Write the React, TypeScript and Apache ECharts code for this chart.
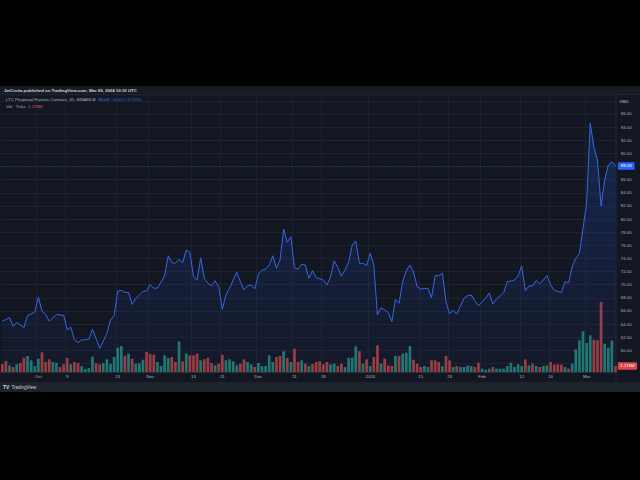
import React, { useEffect, useRef } from 'react';
import * as echarts from 'echarts';

// ---- data ----
const startDate = [2023, 8, 21]; // first daily bar: 21 Sep 2023 (UTC, month 0-based)

const closes = [
  64.46, 64.69, 64.97, 63.66, 64.24, 63.85, 63.50, 65.26, 65.56, 65.83,
  68.12, 65.99, 65.48, 64.46, 64.92, 65.45, 65.38, 65.33, 63.14, 63.52,
  61.61, 61.16, 61.57, 61.61, 61.66, 63.20, 61.80, 60.30, 61.42, 62.59,
  64.62, 65.30, 69.03, 69.11, 68.81, 68.81, 67.01, 67.89, 68.42, 68.96,
  69.03, 70.02, 69.45, 69.49, 70.41, 71.32, 74.41, 73.35, 73.25, 73.86,
  73.35, 75.28, 74.93, 71.21, 70.71, 74.11, 70.97, 70.21, 69.84, 70.60,
  69.69, 66.25, 68.42, 69.45, 70.71, 71.88, 70.45, 69.19, 69.84, 69.95,
  69.34, 71.62, 72.23, 72.34, 73.00, 74.41, 72.49, 73.76, 78.48, 76.45,
  77.31, 72.58, 72.34, 73.10, 73.00, 70.97, 72.13, 71.09, 70.89, 70.71,
  69.95, 71.21, 73.65, 72.64, 71.32, 72.23, 73.35, 76.04, 76.65, 73.25,
  73.25, 72.89, 74.78, 73.00, 65.38, 66.49, 66.14, 65.73, 64.36, 67.77,
  67.16, 70.45, 72.13, 73.00, 71.97, 69.69, 69.34, 69.41, 69.45, 68.01,
  71.37, 71.37, 71.73, 67.40, 65.53, 66.14, 65.53, 66.75, 67.92, 68.32,
  68.42, 67.56, 66.79, 67.36, 67.97, 68.73, 67.05, 67.82, 68.27, 68.77,
  70.45, 70.56, 70.71, 71.32, 72.84, 69.08, 69.80, 69.80, 70.63, 70.10,
  70.71, 71.40, 70.02, 69.14, 68.96, 68.81, 70.45, 70.30, 72.74, 74.02,
  74.75, 78.63, 82.44, 94.58, 90.97, 88.99, 81.98, 85.94, 88.23, 88.71, 88.08,
];

// volume in millions
const volumes = [
  1.57, 2.16, 1.31, 0.98, 1.51, 1.76, 2.80, 3.14, 2.29, 1.18,
  2.61, 3.86, 1.96, 2.49, 1.96, 1.82, 0.98, 1.51, 2.74, 1.51,
  1.96, 1.76, 1.12, 0.59, 0.78, 3.00, 1.76, 1.51, 1.76, 2.49,
  1.63, 2.94, 4.76, 5.10, 3.19, 3.59, 2.61, 1.63, 1.76, 2.41,
  3.92, 3.59, 3.39, 1.96, 1.18, 3.27, 2.74, 2.94, 1.96, 6.02,
  2.10, 3.59, 3.27, 3.27, 3.59, 2.29, 2.49, 2.80, 1.76, 1.31,
  1.63, 3.39, 2.29, 2.49, 2.10, 1.31, 1.63, 2.49, 1.96, 1.51,
  0.98, 1.76, 1.18, 1.18, 3.27, 1.96, 2.94, 3.14, 4.06, 2.80,
  1.96, 4.57, 1.96, 2.29, 1.63, 1.18, 1.57, 1.96, 2.10, 1.51,
  1.96, 1.51, 1.63, 1.18, 1.63, 0.98, 2.80, 2.80, 5.04, 4.06,
  1.63, 2.49, 1.18, 2.94, 5.23, 1.63, 2.61, 1.31, 1.18, 3.14,
  3.14, 3.59, 3.78, 5.10, 2.41, 1.63, 0.98, 1.18, 0.98, 2.29,
  2.29, 1.96, 1.12, 3.14, 2.29, 0.98, 1.18, 0.98, 0.98, 1.27,
  1.18, 0.98, 1.82, 0.65, 0.45, 0.65, 0.98, 0.65, 0.65, 0.65,
  1.18, 1.82, 0.98, 1.51, 1.18, 2.49, 1.31, 1.63, 1.18, 0.98,
  1.18, 1.31, 1.96, 1.43, 1.51, 1.43, 0.98, 0.65, 1.63, 4.45,
  6.21, 7.98, 5.68, 7.19, 6.33, 6.21, 13.72, 5.55, 4.76, 6.13, 1.176,
];

// 1 = up (teal) bar, 0 = down (red) bar
const volUp = [
  0, 0, 1, 0, 1, 0, 0, 1, 1, 1,
  1, 0, 0, 0, 1, 1, 0, 0, 0, 1,
  0, 0, 1, 1, 1, 1, 0, 0, 1, 1,
  1, 1, 1, 1, 0, 1, 0, 1, 1, 1,
  0, 0, 0, 1, 1, 1, 1, 0, 0, 1,
  0, 1, 0, 0, 0, 1, 0, 0, 0, 1,
  0, 0, 1, 1, 1, 1, 0, 0, 1, 1,
  0, 1, 1, 1, 1, 1, 0, 0, 1, 0,
  1, 0, 0, 1, 0, 1, 0, 0, 0, 0,
  0, 1, 1, 0, 0, 1, 1, 1, 1, 0,
  1, 0, 1, 0, 0, 1, 0, 0, 0, 1,
  0, 1, 1, 1, 0, 0, 0, 1, 1, 0,
  0, 0, 1, 0, 0, 1, 0, 1, 1, 1,
  1, 0, 0, 1, 1, 1, 0, 1, 1, 1,
  1, 1, 1, 1, 1, 0, 1, 0, 1, 0,
  1, 1, 0, 0, 0, 0, 1, 0, 1, 1,
  1, 1, 1, 1, 0, 0, 0, 1, 1, 1, 0,
];

const timeTickDates = [
  '2023-10-01', '2023-10-09', '2023-10-23', '2023-11-01', '2023-11-13', '2023-11-21',
  '2023-12-01', '2023-12-11', '2023-12-19', '2024-01-01', '2024-01-15', '2024-01-23',
  '2024-02-01', '2024-02-12', '2024-02-20', '2024-03-01',
];
const timeTickLabels = [
  'Oct', '9', '23', 'Nov', '13', '21', 'Dec', '11', '19', '2024', '15', '23', 'Feb', '12', '20', 'Mar',
];

const priceMin = 56;
const priceMax = 100;
const priceStep = 2;
const priceLabelLow = 60;
const priceLabelHigh = 96;

const headerText = 'JetCrcita published on TradingView.com, Mar 09, 2024 10:10 UTC';
const symbolText = 'LTC Perpetual Futures Contract, 1D, BINANCE';
const volText = 'Vol · Ticks';

const FONT = '"Liberation Sans", Roboto, Arial, sans-serif';
const BG = '#131722';
const GRIDC = '#1d2130';
const BLUE = '#2962ff';
const UP = '#21786c';
const DOWN = '#9e3c3e';

export default function App() {
  const ref = useRef<HTMLDivElement>(null);

  useEffect(() => {
    if (!ref.current) return;
    const chart = echarts.init(ref.current, undefined, { renderer: 'svg' });

    const dates: string[] = [];
    const t0 = Date.UTC(startDate[0], startDate[1], startDate[2]);
    for (let i = 0; i < closes.length; i++) {
      dates.push(new Date(t0 + i * 86400000).toISOString().slice(0, 10));
    }
    const tickMap = new Map<string, string>();
    timeTickDates.forEach((d, i) => tickMap.set(d, timeTickLabels[i]));

    const last = closes[closes.length - 1];
    const prev = closes[closes.length - 2];
    const chg = last - prev;
    const pct = (chg / prev) * 100;
    const fmtSigned = (v: number) => (v < 0 ? '\u2212' : '+') + Math.abs(v).toFixed(2);
    const lastVol = volumes[volumes.length - 1];
    const lastVolText = lastVol.toFixed(3) + 'M';

    const gridL = 0.5;
    const gridR = 22.7;

    const option: any = {
      animation: false,
      backgroundColor: BG,
      textStyle: { fontFamily: FONT },
      grid: [
        { left: gridL, right: gridR, top: 87.74, bottom: 103.44, containLabel: false },
        { left: gridL, right: gridR, top: 270, bottom: 108, containLabel: false },
      ],
      xAxis: [
        {
          type: 'category', gridIndex: 0, data: dates, boundaryGap: true,
          axisLine: { show: false }, axisTick: { show: false }, axisLabel: { show: false },
          splitLine: {
            show: true,
            interval: (_i: number, v: string) => tickMap.has(v),
            lineStyle: { color: GRIDC, width: 1 },
          },
        },
        {
          type: 'category', gridIndex: 1, data: dates, boundaryGap: true, z: 60,
          axisLine: { show: true, lineStyle: { color: '#2a2e39', width: 1 } },
          axisTick: { show: false },
          axisLabel: {
            interval: (_i: number, v: string) => tickMap.has(v),
            formatter: (v: string) => tickMap.get(v) || '',
            color: '#b2b5be', fontSize: 4.3, margin: 2.4, fontFamily: FONT,
          },
          splitLine: { show: false },
        },
      ],
      yAxis: [
        {
          type: 'value', gridIndex: 0, position: 'right', min: priceMin, max: priceMax, interval: priceStep,
          axisLine: { show: false }, axisTick: { show: false }, axisLabel: { show: false },
          splitLine: { show: true, lineStyle: { color: GRIDC, width: 1 } },
        },
        {
          type: 'value', gridIndex: 0, position: 'right', min: priceMin, max: priceMax, interval: priceStep, z: 60,
          axisLine: { show: false }, axisTick: { show: false }, splitLine: { show: false },
          axisLabel: {
            margin: 3.5, color: '#b2b5be', fontSize: 4.3, fontFamily: FONT,
            formatter: (v: number) => (v >= priceLabelLow && v <= priceLabelHigh ? v.toFixed(2) : ''),
          },
        },
        { type: 'value', gridIndex: 1, min: 0, max: 20, show: false },
      ],
      series: [
        {
          type: 'bar', xAxisIndex: 1, yAxisIndex: 2, z: 60,
          barCategoryGap: '25%',
          data: volumes.map((v, i) => ({ value: v, itemStyle: { color: volUp[i] ? UP : DOWN } })),
          markLine: {
            z: 66, silent: true, symbol: ['none', 'none'], animation: false,
            data: [{ yAxis: lastVol }],
            lineStyle: { color: 'rgba(0,0,0,0)', width: 0 },
            label: {
              show: true, position: 'end', distance: 0.5, formatter: lastVolText,
              backgroundColor: '#d9474c', color: '#ffffff', fontSize: 4.3, fontFamily: FONT,
              padding: [2, 2.5, 1.5, 2.5], borderRadius: 1,
            },
          },
        },
        {
          type: 'line', xAxisIndex: 0, yAxisIndex: 0, z: 61,
          data: closes, symbol: 'none', smooth: false,
          lineStyle: { color: '#3566e6', width: 1 },
          areaStyle: {
            origin: 56.69,
            color: new echarts.graphic.LinearGradient(0, 0, 0, 1, [
              { offset: 0, color: 'rgba(41,98,255,0.30)' },
              { offset: 1, color: 'rgba(41,98,255,0.04)' },
            ]),
          },
          markLine: {
            z: 66, silent: true, symbol: ['none', 'none'], animation: false,
            data: [{ yAxis: last }],
            lineStyle: { color: 'rgba(41,98,255,0.45)', type: [1, 2], width: 1 },
            label: {
              show: true, position: 'end', distance: 0.5, formatter: last.toFixed(2),
              backgroundColor: BLUE, color: '#ffffff', fontSize: 4.3, fontFamily: FONT,
              padding: [2, 3, 1.5, 3], borderRadius: 1,
            },
          },
        },
      ],
      graphic: [
        // outer black frame
        { type: 'rect', z: 50, silent: true, shape: { x: 0, y: 0, width: 640, height: 86 }, style: { fill: '#000' } },
        { type: 'rect', z: 50, silent: true, shape: { x: 0, y: 392, width: 640, height: 88 }, style: { fill: '#000' } },
        // header band
        { type: 'rect', z: 50, silent: true, shape: { x: 0, y: 86, width: 640, height: 8.5 }, style: { fill: '#181b24' } },
        { type: 'rect', z: 50, silent: true, shape: { x: 0, y: 94.5, width: 640, height: 0.8 }, style: { fill: '#2a2e39' } },
        // time-axis band & footer
        { type: 'rect', z: 50, silent: true, shape: { x: 0, y: 372.5, width: 640, height: 9.5 }, style: { fill: BG } },
        { type: 'rect', z: 50, silent: true, shape: { x: 0, y: 382, width: 640, height: 10 }, style: { fill: '#1e222d' } },
        // price-scale column
        { type: 'rect', z: 50, silent: true, shape: { x: 616, y: 95.3, width: 24, height: 277.2 }, style: { fill: BG } },
        { type: 'rect', z: 50, silent: true, shape: { x: 615.6, y: 95.3, width: 0.8, height: 286.7 }, style: { fill: '#2a2e39' } },
        // texts
        {
          type: 'text', z: 70, silent: true, x: 4, y: 90.3,
          style: { text: headerText, fill: '#d1d4dc', fontSize: 4.3, fontWeight: 'bold', fontFamily: FONT, verticalAlign: 'middle' },
        },
        {
          type: 'text', z: 70, silent: true, x: 6, y: 99.8,
          style: {
            text: '{a|' + symbolText + '}{b|  ' + last.toFixed(2) + '}{b|  ' + fmtSigned(chg) + ' (' + fmtSigned(pct) + '%)}',
            verticalAlign: 'middle', fontFamily: FONT,
            rich: {
              a: { fill: '#b2b5be', fontSize: 4.3, fontFamily: FONT },
              b: { fill: '#3d6cf5', fontSize: 4.3, fontFamily: FONT },
            },
          },
        },
        {
          type: 'text', z: 70, silent: true, x: 6, y: 106.7,
          style: {
            text: '{a|' + volText + '}{c|  ' + lastVolText + '}',
            verticalAlign: 'middle', fontFamily: FONT,
            rich: {
              a: { fill: '#b2b5be', fontSize: 4.3, fontFamily: FONT },
              c: { fill: '#e0575b', fontSize: 4.3, fontFamily: FONT },
            },
          },
        },
        {
          type: 'text', z: 70, silent: true, x: 624, y: 101.7,
          style: { text: 'USD', fill: '#d1d4dc', fontSize: 4.3, fontFamily: FONT, align: 'center', verticalAlign: 'middle' },
        },
        {
          type: 'text', z: 70, silent: true, x: 3, y: 387.2,
          style: { text: 'TV', fill: '#d1d4dc', fontSize: 5, fontWeight: 'bold', fontFamily: FONT, verticalAlign: 'middle' },
        },
        {
          type: 'text', z: 70, silent: true, x: 11.5, y: 387.2,
          style: { text: 'TradingView', fill: '#d1d4dc', fontSize: 4.5, fontFamily: FONT, verticalAlign: 'middle' },
        },
      ],
    };

    chart.setOption(option);
    return () => chart.dispose();
  }, []);

  return (
    <div
      ref={ref}
      style={{ position: 'fixed', left: 0, top: 0, width: 640, height: 480 }}
    />
  );
}
